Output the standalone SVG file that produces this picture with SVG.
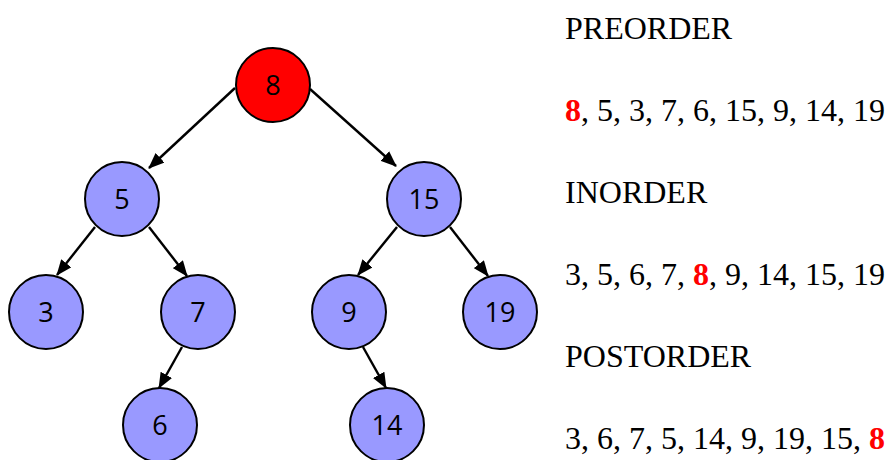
<svg xmlns="http://www.w3.org/2000/svg" width="888" height="460" viewBox="0 0 888 460">
<style>
.node circle{stroke:#000;stroke-width:2;fill:#9999FF}
.node.root circle{fill:#FF0000}
.node text{font-family:"Open Sans","DejaVu Sans",sans-serif;font-size:27px;text-anchor:middle;fill:#000}
.edge{stroke:#000;stroke-width:2.4;fill:none;marker-end:url(#arr)}
.lbl{font-family:"Liberation Serif","Times New Roman",serif;font-size:32px;fill:#000}
.red{fill:#FF0000;font-weight:bold}
</style>
<defs>
<marker id="arr" viewBox="0 0 16 13" refX="15" refY="6.5" markerWidth="16" markerHeight="13" markerUnits="userSpaceOnUse" orient="auto">
<path d="M0,0 L16,6.5 L0,13 z" fill="#000"/>
</marker>
</defs>
<g id="connectors">
<line class="edge" x1="235" y1="88" x2="149" y2="168"/>
<line class="edge" x1="310" y1="89" x2="396" y2="166"/>
<line class="edge" x1="95" y1="227" x2="57" y2="275"/>
<line class="edge" x1="149" y1="227" x2="187" y2="276"/>
<line class="edge" x1="397" y1="227" x2="358" y2="275"/>
<line class="edge" x1="450" y1="227" x2="488" y2="276"/>
<line class="edge" x1="182" y1="347" x2="159" y2="388"/>
<line class="edge" x1="363" y1="347" x2="386" y2="388"/>
</g>
<g id="n8" class="node root"><circle cx="273" cy="85" r="37"/><text x="273" y="95">8</text></g>
<g id="n5" class="node"><circle cx="122" cy="199" r="37"/><text x="122" y="209">5</text></g>
<g id="n15" class="node"><circle cx="424" cy="199" r="37"/><text x="424" y="209">15</text></g>
<g id="n3" class="node"><circle cx="46" cy="312" r="37"/><text x="46" y="322">3</text></g>
<g id="n7" class="node"><circle cx="198" cy="312" r="37"/><text x="198" y="322">7</text></g>
<g id="n9" class="node"><circle cx="349" cy="312" r="37"/><text x="349" y="322">9</text></g>
<g id="n19" class="node"><circle cx="500" cy="312" r="37"/><text x="500" y="322">19</text></g>
<g id="n6" class="node"><circle cx="160" cy="425" r="37"/><text x="160" y="435">6</text></g>
<g id="n14" class="node"><circle cx="387" cy="425" r="37"/><text x="387" y="435">14</text></g>
<g id="traversals">
<text class="lbl" x="565" y="39">PREORDER</text>
<text class="lbl" x="565" y="121"><tspan class="red">8</tspan>, 5, 3, 7, 6, 15, 9, 14, 19</text>
<text class="lbl" x="565" y="203">INORDER</text>
<text class="lbl" x="565" y="285">3, 5, 6, 7, <tspan class="red">8</tspan>, 9, 14, 15, 19</text>
<text class="lbl" x="565" y="367">POSTORDER</text>
<text class="lbl" x="565" y="449">3, 6, 7, 5, 14, 9, 19, 15, <tspan class="red">8</tspan></text>
</g>
</svg>
